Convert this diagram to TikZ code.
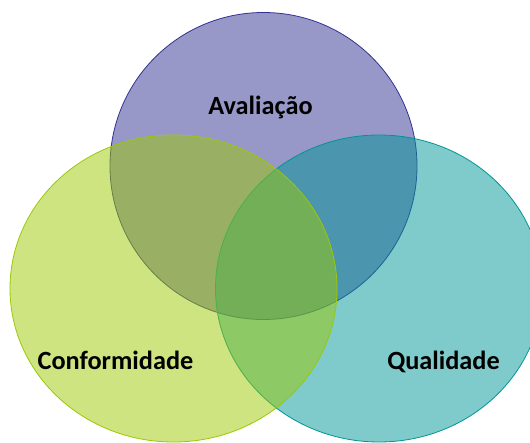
\documentclass[tikz,border=0pt]{standalone}
\usepackage{fontspec}
\setmainfont{Carlito}
\usetikzlibrary{shapes.geometric}
\definecolor{avalblue}{RGB}{49,49,145}
\definecolor{qualteal}{RGB}{0,149,149}
\definecolor{confgreen}{RGB}{155,201,1}

\begin{document}
\begin{tikzpicture}[x=1pt, y=-1pt]
        % Define block styles
        \tikzstyle{setnode} = [ellipse, line width=0.8pt, fill opacity=0.5, inner sep=0pt, outer sep=0pt]
        \tikzstyle{namenode} = [anchor=base, font=\fontsize{26.3}{30}\selectfont\bfseries, inner sep=0pt]

        \useasboundingbox (0,0) rectangle (530,443);
        \clip (0,0) rectangle (530,443);

        % Define sets
        \node [setnode, draw=avalblue, fill=avalblue, minimum width=307pt, minimum height=307pt] (aval) at (263.5,166) {};
        \node [setnode, draw=qualteal, fill=qualteal, minimum width=327pt, minimum height=307pt] (qual) at (379,288.5) {};
        \node [setnode, draw=confgreen, fill=confgreen, minimum width=327pt, minimum height=307pt] (conf) at (173.5,288.5) {};

        % Define labels
        \node [namenode] (avaltext) at (260.5,114.5) {Avaliação};
        \node [namenode] (conftext) at (115.5,369.5) {Conformidade};
        \node [namenode] (qualtext) at (443.5,369.5) {Qualidade};
\end{tikzpicture}
\end{document}
